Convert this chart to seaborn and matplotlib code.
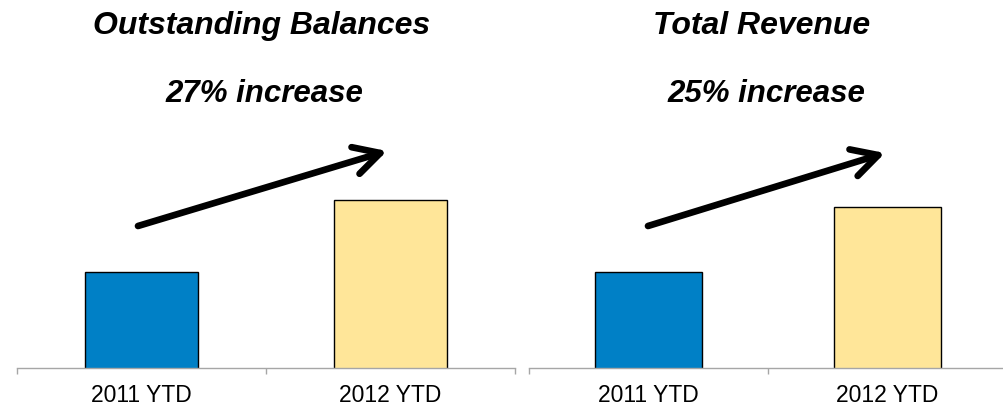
import matplotlib
matplotlib.use("Agg")
import matplotlib.pyplot as plt
import seaborn as sns

# Data
categories = ["2011 YTD", "2012 YTD"]
balances = [100, 127]      # Outstanding balances, indexed to 2011 YTD = 100
revenue = [100, 125]       # Total revenue, indexed to 2011 YTD = 100
titles = ["Outstanding Balances", "Total Revenue"]
growth_labels = ["27% increase", "25% increase"]
bar_colors = ["#0080C6", "#FFE699"]

sns.set_theme(style="white")
plt.rcParams["font.family"] = ["Liberation Sans", "DejaVu Sans"]
plt.rcParams["text.color"] = "black"
plt.rcParams["xtick.color"] = "black"

W, H = 1004, 406
fig = plt.figure(figsize=(W / 100, H / 100), dpi=100)

def px_rect(x0, x1, y_base, y_top):
    """Axes rectangle from pixel coordinates (origin top-left)."""
    return [x0 / W, (H - y_base) / H, (x1 - x0) / W, (y_base - y_top) / H]

panels = [
    dict(rect=px_rect(17, 515, 369, 180), values=balances, ylim=(64.4, 134.7),
         title_x=262, growth_x=264, arrow=((138, 227), (387, 152))),
    dict(rect=px_rect(529, 1007, 369, 180), values=revenue, ylim=(62.6, 136.0),
         title_x=762, growth_x=766, arrow=((648, 227), (885, 154))),
]

axis_gray = "#A6A6A6"

for i, p in enumerate(panels):
    ax = fig.add_axes(p["rect"])
    sns.barplot(x=categories, y=p["values"], hue=categories, palette=bar_colors,
                width=0.45, edgecolor="black", linewidth=1.0, legend=False,
                ax=ax, saturation=1)
    ax.set_xlim(-0.5, 1.5)
    ax.set_ylim(*p["ylim"])
    for s in ["left", "right", "top"]:
        ax.spines[s].set_visible(False)
    ax.spines["bottom"].set_color(axis_gray)
    ax.spines["bottom"].set_linewidth(1.0)
    ax.set_yticks([])
    ax.set_xlabel("")
    ax.set_ylabel("")
    ax.set_xticks([-0.5, 0.5, 1.5], minor=True)
    ax.tick_params(axis="x", which="minor", length=4.3, width=1.0,
                   color=axis_gray, direction="out", bottom=True)
    ax.tick_params(axis="x", which="major", length=0, pad=10.5,
                   labelsize=16.5, labelcolor="black")
    ax.patch.set_alpha(0)

    fig.text(p["title_x"] / W, (H - 34) / H, titles[i], ha="center",
             va="baseline", fontsize=23, fontweight="bold", style="italic",
             color="black")
    fig.text(p["growth_x"] / W, (H - 102) / H, growth_labels[i], ha="center",
             va="baseline", fontsize=22.5, fontweight="bold", style="italic",
             color="black")

    (tx, ty), (hx, hy) = p["arrow"]
    ax.annotate("", xy=(hx, H - hy), xycoords="figure pixels",
                xytext=(tx, H - ty), textcoords="figure pixels",
                annotation_clip=False,
                arrowprops=dict(arrowstyle="->,head_length=0.93,head_width=0.5",
                                mutation_scale=20, lw=4.8, color="black",
                                shrinkA=0, shrinkB=0, capstyle="round",
                                joinstyle="round"))

fig.savefig("out.png", dpi=100)
